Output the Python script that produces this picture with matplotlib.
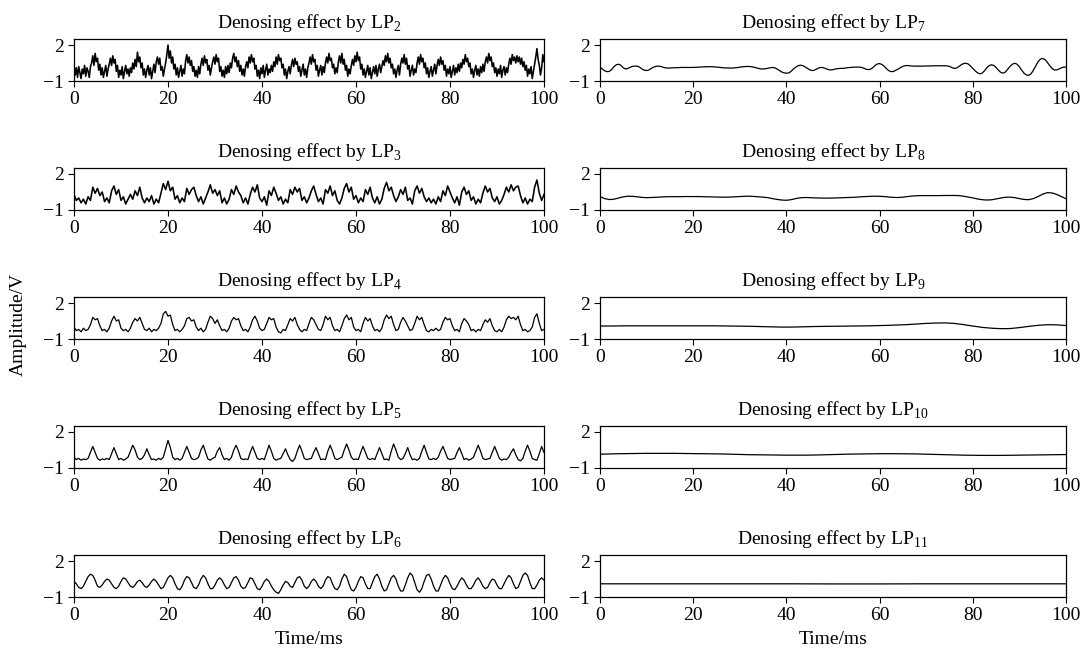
import numpy as np
import matplotlib
matplotlib.use("Agg")
import matplotlib.pyplot as plt

plt.rcParams['font.family'] = ['Liberation Serif', 'DejaVu Serif']
plt.rcParams['mathtext.fontset'] = 'custom'
plt.rcParams['mathtext.rm'] = 'Liberation Serif'
plt.rcParams['font.size'] = 14

# denoised signals, sampled over 0..100 ms
lp2 = [0.4, -0.5, 0.1, -0.7, 0.2, -0.3, -0.8, 0.0,
       -0.4, 0.3, -0.6, 0.1, -0.2, -0.7, 0.2, 0.5,
       1.1, 0.3, 1.3, 0.6, 0.9, -0.1, 0.4, -0.5,
       0.1, -0.7, -0.2, 0.3, -0.6, 0.0, 0.4, 0.9,
       0.3, 1.1, 0.5, 0.8, -0.2, 0.3, -0.7, -0.1,
       -0.5, 0.2, -0.8, -0.2, 0.3, -0.4, 0.0, -0.6,
       0.1, -0.3, 0.5, 0.0, 0.8, 0.2, 1.4, 0.6,
       1.0, 0.1, 0.5, -0.5, 0.0, -0.7, -0.1, 0.3,
       -0.5, 0.1, -0.8, -0.2, 0.4, -0.3, 0.6, 1.0,
       0.4, 0.9, -0.1, 0.2, -0.6, 0.0, 0.5, 1.2,
       2.0, 0.9, 1.5, 0.5, 1.0, 0.0, 0.4, -0.5,
       0.1, -0.7, -0.2, 0.3, -0.6, 0.0, -0.4, 0.7,
       1.2, 0.5, 1.0, 0.3, 0.7, -0.2, 0.2, -0.6,
       -0.1, -0.7, 0.2, -0.4, 0.4, 0.9, 0.3, 1.1,
       0.5, 0.8, -0.1, 0.3, -0.5, 0.1, 0.6, 1.0,
       0.4, 1.2, 0.6, 0.9, -0.2, 0.2, -0.6, -0.1,
       -0.7, 0.2, -0.4, 0.3, -0.3, 0.5, 0.1, 0.9,
       1.3, 0.6, 1.0, 0.2, 0.7, -0.2, 0.3, -0.5,
       0.0, -0.6, 0.2, 0.6, 0.1, 1.0, 0.5, 1.2,
       0.6, 0.9, 0.0, 0.3, -0.6, -0.1, -0.8, 0.1,
       -0.4, 0.3, -0.7, -0.1, 0.4, -0.5, 0.0, -0.3,
       0.3, -0.2, 0.6, 0.2, 1.0, 0.4, 1.2, 0.7,
       0.9, 0.1, 0.4, -0.5, 0.0, -0.8, -0.2, 0.2,
       -0.4, 0.3, 0.8, 0.2, 0.9, 0.4, 0.6, -0.2,
       0.2, -0.6, -0.1, 0.4, -0.5, 0.0, -0.7, 0.1,
       0.5, 1.0, 0.4, 1.2, 0.6, 0.8, -0.1, 0.3,
       -0.6, -0.1, 0.3, -0.5, 0.2, -0.3, 0.5, 1.0,
       0.5, 1.3, 0.7, 0.9, 0.1, 0.4, -0.4, 0.1,
       -0.3, 0.6, 1.1, 0.5, 1.3, 0.4, 0.8, -0.1,
       0.3, -0.6, 0.0, -0.4, 0.3, 0.8, 0.3, 1.1,
       0.6, 1.4, 0.7, 1.0, 0.0, 0.4, -0.5, 0.0,
       -0.7, -0.2, 0.3, -0.5, 0.1, -0.8, -0.3, 0.2,
       -0.4, 0.3, -0.6, 0.0, 0.4, -0.3, 0.2, 0.7,
       0.3, 1.1, 0.6, 1.3, 0.5, 0.9, 0.1, 0.4,
       -0.4, 0.0, -0.7, -0.1, 0.3, -0.5, 0.4, 0.9,
       0.5, 1.2, 0.4, 0.9, 0.0, 0.3, -0.6, -0.1,
       0.3, -0.5, 0.0, -0.3, 0.5, 1.0, 0.4, 1.2,
       0.6, 0.9, 0.1, 0.5, -0.4, 0.1, -0.7, -0.2,
       0.2, -0.6, -0.1, 0.4, -0.4, 0.3, 0.8, 0.3,
       1.0, 0.4, 0.7, -0.1, 0.3, -0.6, 0.0, -0.4,
       0.2, -0.7, -0.2, 0.3, -0.5, 0.1, -0.3, 0.4,
       -0.2, 0.5, 0.1, 0.8, 0.4, 1.2, 0.6, 0.9,
       0.2, 0.5, -0.4, 0.0, -0.7, -0.1, 0.3, -0.5,
       0.0, -0.6, 0.2, -0.3, 0.4, -0.2, 0.6, 1.0,
       0.5, 1.3, 0.7, 1.0, 0.2, 0.5, -0.3, 0.1,
       -0.6, 0.0, -0.4, 0.3, -0.7, -0.1, 0.2, -0.5,
       0.1, -0.3, 0.4, 0.9, 0.4, 1.2, 0.7, 1.0,
       0.5, 1.1, 0.6, 1.0, 0.4, 0.9, 0.2, 0.6,
       -0.1, 0.3, -0.6, 0.0, -0.4, 0.2, -0.8, -0.2,
       0.4, 1.0, 1.7, 0.8, 0.3, -0.5, 0.1, 1.2,
       0.6]

lp3 = [0.3, -0.2, 0.0, -0.4, -0.1, -0.5, 0.1, -0.2,
       0.9, 0.4, 0.8, 0.2, 0.5, -0.3, 0.0, -0.4,
       0.6, 1.0, 0.3, 0.7, -0.2, 0.1, -0.5, -0.1,
       0.3, -0.1, 0.6, 0.2, 0.9, 0.0, -0.4, 0.0,
       -0.3, 0.2, -0.5, -0.1, -0.4, 0.4, 1.2, 0.7,
       1.4, 0.6, 0.9, -0.1, 0.2, -0.4, 0.0, -0.3,
       0.8, 0.3, 0.7, 0.9, 0.2, -0.3, 0.1, -0.5,
       0.0, 0.5, 1.1, 0.4, 0.7, 0.2, 0.6, -0.4,
       0.0, -0.5, -0.1, 0.7, 0.3, 1.0, 0.5, 0.2,
       -0.4, 0.0, -0.5, 0.3, 0.9, 0.5, 1.1, 0.0,
       -0.3, 0.1, -0.6, 0.6, 0.2, 0.9, 0.4, -0.2,
       0.1, -0.5, -0.1, -0.4, 0.7, 0.3, 0.9, 0.5,
       0.8, -0.2, 0.1, -0.4, 0.0, 0.6, 1.0, 0.3,
       -0.3, 0.0, -0.5, 0.7, 0.4, 1.0, 0.2, 0.6,
       -0.2, -0.5, 0.0, 0.8, 1.2, 0.5, 0.9, -0.1,
       0.2, -0.4, 0.0, -0.3, 0.7, 0.3, 0.9, 0.0,
       -0.4, 0.1, -0.5, -0.1, 0.8, 1.3, 0.6, 0.9,
       0.2, -0.3, 0.1, 0.7, 0.3, 0.9, -0.2, 0.0,
       -0.5, 0.6, 1.0, 0.4, 0.8, 0.1, -0.3, 0.0,
       -0.4, -0.1, -0.5, 0.1, -0.3, 0.6, 0.2, 1.0,
       0.5, 0.0, -0.4, 0.1, -0.6, 0.5, 0.9, 0.3,
       0.6, -0.2, 0.1, -0.5, -0.1, -0.4, 0.4, 1.0,
       0.5, 0.8, 0.0, -0.3, 0.1, -0.5, -0.2, 0.3,
       0.9, 0.5, 1.1, 0.6, 0.9, 1.0, 0.2, -0.4,
       0.0, -0.5, -0.1, -0.3, 0.9, 1.5, 0.4, -0.2,
       0.3]

lp4 = [0.0, -0.3, -0.2, -0.4, -0.1, -0.3, -0.2, 0.2,
       0.8, 0.6, 0.7, 0.1, -0.3, -0.2, -0.4, -0.1,
       0.5, 0.9, 0.5, 0.6, -0.1, -0.3, -0.2, -0.4,
       -0.1, 0.4, 0.7, 0.5, 0.8, 0.3, -0.2, -0.3,
       -0.1, -0.4, -0.2, -0.3, -0.1, 0.3, 1.1, 1.3,
       0.9, 1.0, 0.2, -0.3, -0.2, -0.4, -0.2, 0.1,
       0.7, 0.8, 0.5, 0.6, 0.0, -0.3, -0.1, -0.4,
       -0.2, 0.4, 0.9, 0.7, 0.3, 0.6, 0.1, -0.3,
       -0.2, -0.4, -0.1, 0.5, 0.8, 0.6, 0.7, 0.1,
       -0.3, -0.2, -0.4, 0.0, 0.6, 0.9, 0.5, -0.1,
       -0.3, -0.2, 0.3, 0.8, 0.6, 0.7, 0.0, -0.4,
       -0.5, -0.2, -0.3, 0.2, 0.7, 0.5, 0.8, 0.2,
       -0.2, -0.4, -0.2, -0.3, 0.3, 0.8, 0.6, 0.2,
       -0.2, -0.3, 0.2, 0.9, 0.6, 0.8, 0.1, -0.3,
       -0.2, -0.4, 0.1, 0.7, 1.0, 0.6, 0.8, 0.0,
       -0.3, -0.2, -0.4, 0.3, 0.8, 0.5, 0.7, 0.1,
       -0.3, -0.2, -0.4, -0.1, 0.6, 1.0, 0.7, 0.9,
       0.2, -0.3, -0.2, 0.4, 0.8, 0.5, 0.1, -0.3,
       -0.2, 0.3, 0.9, 0.6, 0.8, 0.2, -0.3, -0.4,
       -0.2, -0.3, -0.1, -0.3, -0.2, 0.4, 0.8, 0.6,
       0.7, 0.1, -0.3, -0.2, -0.4, 0.3, 0.7, 0.5,
       0.2, -0.3, -0.2, -0.4, -0.2, -0.3, 0.2, 0.6,
       0.4, 0.7, 0.1, -0.3, -0.4, -0.2, -0.4, 0.0,
       0.6, 0.9, 0.7, 0.8, 0.6, 0.9, 0.2, -0.3,
       -0.2, -0.4, -0.3, 0.0, 0.8, 1.1, 0.3, -0.3,
       -0.2]

lp5 = [-0.1, -0.3, -0.2, -0.35, -0.25, -0.3, -0.2, 0.3,
       0.8, 0.3, -0.2, -0.35, -0.25, -0.3, -0.2, -0.3,
       0.2, 0.7, 0.2, -0.3, -0.2, -0.35, -0.25, -0.1,
       0.4, 0.9, 0.5, -0.1, -0.3, -0.2, 0.1, 0.6,
       0.1, -0.3, -0.25, -0.35, -0.2, -0.3, -0.1, 0.6,
       1.3, 0.7, -0.1, -0.3, -0.2, -0.35, -0.2, 0.3,
       0.8, 0.3, -0.2, -0.3, -0.25, -0.1, 0.5, 0.9,
       0.3, -0.25, -0.35, -0.2, -0.1, 0.4, 0.7, 0.1,
       -0.3, -0.2, -0.35, -0.1, 0.5, 0.9, 0.4, -0.2,
       -0.3, -0.25, -0.3, 0.3, 0.8, 0.3, -0.2, -0.3,
       -0.2, -0.3, 0.3, 0.9, 0.4, -0.2, -0.35, -0.25,
       -0.2, 0.2, 0.6, 0.1, -0.3, -0.45, -0.2, 0.4,
       0.9, 0.4, -0.2, -0.3, -0.25, -0.2, 0.3, 0.7,
       0.2, -0.3, -0.25, -0.3, 0.4, 0.9, 0.4, -0.2,
       -0.3, -0.2, -0.1, 0.5, 1.0, 0.5, -0.1, -0.3,
       -0.25, -0.3, 0.3, 0.8, 0.3, -0.2, -0.3, -0.2,
       -0.3, 0.2, 0.7, 0.2, -0.3, -0.25, -0.35, 0.4,
       1.0, 0.5, -0.1, -0.3, -0.2, 0.2, 0.7, 0.1,
       -0.3, -0.25, -0.35, -0.2, 0.4, 0.9, 0.3, -0.25,
       -0.3, -0.2, -0.3, -0.1, 0.4, 0.8, 0.3, -0.2,
       -0.3, -0.25, -0.2, 0.3, 0.7, 0.2, -0.3, -0.2,
       -0.35, -0.25, -0.1, 0.4, 0.9, 0.4, -0.2, -0.3,
       -0.25, -0.2, 0.3, 0.8, 0.3, -0.2, -0.35, -0.25,
       -0.3, -0.1, 0.3, 0.6, 0.1, -0.3, -0.4, -0.2,
       0.4, 0.9, 0.4, -0.2, -0.3, -0.35, 0.2, 0.8,
       0.3]

lp6 = [0.3, 0.1, -0.2, -0.3, -0.1, 0.3, 0.7, 0.9,
       0.8, 0.4, -0.1, -0.2, 0.0, 0.3, 0.5, 0.4,
       0.1, -0.2, -0.3, -0.1, 0.3, 0.6, 0.5, 0.2,
       -0.1, -0.2, 0.0, 0.3, 0.4, 0.2, -0.1, -0.2,
       0.0, 0.3, 0.5, 0.3, 0.0, -0.3, -0.2, 0.2,
       0.6, 0.8, 0.6, 0.1, -0.3, -0.4, -0.1, 0.4,
       0.7, 0.6, 0.2, -0.2, -0.3, 0.0, 0.5, 0.8,
       0.6, 0.1, -0.3, -0.3, 0.0, 0.4, 0.6, 0.4,
       0.0, -0.3, -0.2, 0.2, 0.6, 0.7, 0.4, -0.1,
       -0.3, -0.2, 0.2, 0.6, 0.5, 0.1, -0.3, -0.4,
       -0.1, 0.3, 0.5, 0.3, -0.1, -0.4, -0.6, -0.7,
       -0.4, 0.0, 0.3, 0.2, -0.1, -0.2, 0.2, 0.6,
       0.7, 0.4, -0.1, -0.3, -0.1, 0.3, 0.5, 0.3,
       -0.1, -0.3, -0.1, 0.4, 0.7, 0.6, 0.1, -0.3,
       -0.4, -0.1, 0.5, 0.9, 0.7, 0.1, -0.4, -0.5,
       -0.2, 0.3, 0.7, 0.6, 0.1, -0.3, -0.3, 0.2,
       0.7, 0.9, 0.5, -0.1, -0.5, -0.4, 0.1, 0.6,
       0.8, 0.5, -0.1, -0.5, -0.5, 0.0, 0.6, 1.0,
       0.8, 0.2, -0.4, -0.6, -0.3, 0.3, 0.8, 0.9,
       0.5, -0.1, -0.5, -0.5, 0.0, 0.5, 0.8, 0.6,
       0.1, -0.3, -0.4, -0.1, 0.3, 0.6, 0.4, 0.0,
       -0.3, -0.3, 0.0, 0.4, 0.6, 0.3, -0.1, -0.3,
       -0.2, 0.2, 0.5, 0.4, 0.0, -0.3, -0.3, 0.1,
       0.5, 0.8, 0.6, 0.1, -0.3, -0.2, 0.3, 0.8,
       1.0, 0.8, 0.2, -0.3, -0.3, 0.0, 0.4, 0.6,
       0.4]

lp7 = [0.17, 0.0, -0.15, -0.22, -0.2, -0.05, 0.2, 0.35,
       0.4, 0.3, 0.1, 0.0, 0.05, 0.15, 0.22, 0.24,
       0.24, 0.15, 0.0, -0.1, -0.13, -0.08, 0.05, 0.15,
       0.22, 0.24, 0.22, 0.15, 0.1, 0.08, 0.08, 0.1,
       0.1, 0.11, 0.12, 0.13, 0.13, 0.13, 0.13, 0.13,
       0.13, 0.14, 0.15, 0.16, 0.17, 0.18, 0.19, 0.19,
       0.19, 0.18, 0.16, 0.14, 0.12, 0.1, 0.09, 0.08,
       0.08, 0.08, 0.1, 0.12, 0.15, 0.18, 0.2, 0.21,
       0.21, 0.19, 0.15, 0.1, 0.05, 0.01, 0.0, 0.02,
       0.06, 0.1, 0.13, 0.1, 0.0, -0.12, -0.25, -0.32,
       -0.35, -0.33, -0.2, 0.0, 0.15, 0.27, 0.32, 0.28,
       0.18, 0.05, -0.07, -0.13, -0.1, 0.0, 0.1, 0.13,
       0.1, 0.02, -0.05, -0.08, -0.05, 0.0, 0.03, 0.05,
       0.05, 0.07, 0.1, 0.12, 0.14, 0.15, 0.16, 0.16,
       0.14, 0.08, 0.0, -0.05, -0.03, 0.1, 0.28, 0.42,
       0.45, 0.38, 0.22, 0.02, -0.15, -0.22, -0.2, -0.1,
       0.0, 0.12, 0.22, 0.28, 0.29, 0.27, 0.25, 0.24,
       0.24, 0.24, 0.24, 0.24, 0.25, 0.25, 0.26, 0.26,
       0.27, 0.27, 0.27, 0.27, 0.27, 0.26, 0.22, 0.12,
       0.05, 0.08, 0.2, 0.35, 0.45, 0.48, 0.42, 0.25,
       0.05, -0.15, -0.32, -0.4, -0.35, -0.15, 0.1, 0.28,
       0.35, 0.3, 0.12, -0.1, -0.28, -0.35, -0.25, -0.02,
       0.22, 0.4, 0.48, 0.4, 0.18, -0.1, -0.35, -0.5,
       -0.53, -0.4, -0.1, 0.25, 0.6, 0.82, 0.88, 0.78,
       0.55, 0.28, 0.05, -0.08, -0.08, 0.0, 0.1, 0.15,
       0.17]

lp8 = [0.12, -0.05, -0.13, -0.1, 0.0, 0.1, 0.15, 0.14, 0.1, 0.05,
       0.03, 0.04, 0.06, 0.08, 0.1, 0.11, 0.11, 0.11, 0.12, 0.12,
       0.12, 0.12, 0.11, 0.1, 0.09, 0.08, 0.07, 0.07, 0.08, 0.1,
       0.12, 0.14, 0.15, 0.13, 0.1, 0.07, 0.03, -0.05, -0.12, -0.17,
       -0.19, -0.14, -0.05, 0.02, 0.04, 0.03, 0.01, 0.0, -0.01, -0.01,
       0.0, 0.01, 0.02, 0.04, 0.05, 0.07, 0.1, 0.12, 0.14, 0.15,
       0.14, 0.12, 0.08, 0.05, 0.04, 0.07, 0.12, 0.16, 0.19, 0.2,
       0.2, 0.2, 0.2, 0.2, 0.21, 0.21, 0.21, 0.2, 0.15, 0.08,
       0.01, -0.08, -0.14, -0.17, -0.15, -0.08, 0.0, 0.06, 0.07, 0.03,
       -0.05, -0.12, -0.14, -0.05, 0.12, 0.32, 0.45, 0.42, 0.3, 0.12,
       -0.06]

lp9 = [0.08, 0.08, 0.09, 0.1, 0.1, 0.1, 0.1, 0.1, 0.1, 0.1,
       0.1, 0.1, 0.1, 0.09, 0.08, 0.07, 0.06, 0.04, 0.02, 0.0,
       -0.01, 0.0, 0.02, 0.04, 0.05, 0.06, 0.07, 0.08, 0.09, 0.1,
       0.12, 0.14, 0.17, 0.2, 0.25, 0.3, 0.33, 0.34, 0.3, 0.2,
       0.08, -0.03, -0.1, -0.14, -0.13, -0.05, 0.05, 0.14, 0.19, 0.18,
       0.12]

lp10 = [0.15, 0.17, 0.19, 0.2, 0.21, 0.22, 0.22, 0.22, 0.22, 0.21,
        0.2, 0.19, 0.18, 0.17, 0.15, 0.13, 0.11, 0.1, 0.09, 0.08,
        0.07, 0.07, 0.07, 0.08, 0.1, 0.12, 0.14, 0.16, 0.17, 0.18,
        0.19, 0.19, 0.19, 0.18, 0.17, 0.15, 0.13, 0.11, 0.09, 0.07,
        0.06, 0.05, 0.05, 0.05, 0.06, 0.07, 0.08, 0.09, 0.1, 0.11,
        0.12]

lp11 = [0.1, 0.1, 0.1, 0.1, 0.1, 0.09, 0.09, 0.1, 0.1, 0.1, 0.1]

left_col = [(2, lp2), (3, lp3), (4, lp4), (5, lp5), (6, lp6)]
right_col = [(7, lp7), (8, lp8), (9, lp9), (10, lp10), (11, lp11)]
xticks = [0, 20, 40, 60, 80, 100]
yticks = [-1, 2]

fig = plt.figure(figsize=(10.88, 6.62), dpi=100)

W, H = 1088, 662
row_tops = [39, 168, 297, 426, 555]
ax_h = 42
cols = [(74, 470), (600, 466)]

for c, panels in enumerate([left_col, right_col]):
    x0, w = cols[c]
    for r, (k, vals) in enumerate(panels):
        bottom = 1 - (row_tops[r] + ax_h) / H
        ax = fig.add_axes([x0 / W, bottom, w / W, ax_h / H])
        t = np.linspace(0, 100, len(vals))
        # noisy outputs drawn a bit heavier
        lw = 1.15 if k in (2, 3) else 0.9
        ax.plot(t, vals, color='black', lw=lw)
        ax.set_xlim(0, 100)
        ax.set_ylim(-1, 2.5)
        ax.set_xticks(xticks)
        ax.set_yticks(yticks)
        ax.tick_params(direction='out', length=4, width=0.8, top=False, right=False,
                       pad=3, labelsize=14)
        for s in ax.spines.values():
            s.set_linewidth(0.9)
        ax.set_title(r'Denosing effect by LP$_{\mathregular{%d}}$' % k, fontsize=14, pad=8)
        if r == 4:
            ax.set_xlabel('Time/ms', fontsize=14, labelpad=5)

fig.text(0.017, 0.51, 'Amplitude/V', rotation=90, ha='center', va='center', fontsize=14)

fig.savefig("out.png", dpi=100)
